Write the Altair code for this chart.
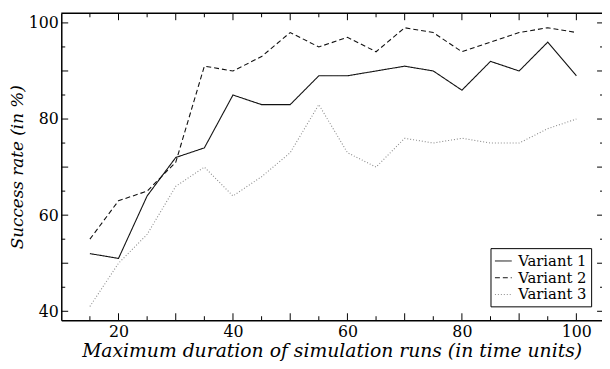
import altair as alt
import pandas as pd

# ---- data ----
durations = [15, 20, 25, 30, 35, 40, 45, 50, 55, 60, 65, 70, 75, 80, 85, 90, 95, 100]
variant1 = [52, 51, 64, 72, 74, 85, 83, 83, 89, 89, 90, 91, 90, 86, 92, 90, 96, 89]
variant2 = [55, 63, 65, 71, 91, 90, 93, 98, 95, 97, 94, 99, 98, 94, 96, 98, 99, 98]
variant3 = [41, 50, 56, 66, 70, 64, 68, 73, 83, 73, 70, 76, 75, 76, 75, 75, 78, 80]
series_names = ["Variant 1", "Variant 2", "Variant 3"]

x_labels = [20, 40, 60, 80, 100]
y_labels = [40, 60, 80, 100]
x_major = [20, 30, 40, 50, 60, 70, 80, 90, 100]
x_minor = [15, 25, 35, 45, 55, 65, 75, 85, 95]
y_major = [40, 50, 60, 70, 80, 90, 100]
y_minor = [45, 55, 65, 75, 85, 95]

# ---- layout / style ----
W, H = 548, 311
FONT = "DejaVu Serif"
x_scale = alt.Scale(domain=[10, 104.48], nice=False, zero=False)
y_scale = alt.Scale(domain=[38.15, 102], nice=False, zero=False)

x_axis = alt.Axis(values=x_labels, labelPadding=4, titleFontSize=19,
                  title="Maximum duration of simulation runs (in time units)", titlePadding=2)
y_axis = alt.Axis(values=y_labels, labelPadding=3, titleFontSize=17,
                  title="Success rate (in %)", titlePadding=2)

rows = []
for name, vals in zip(series_names, [variant1, variant2, variant3]):
    for d, v in zip(durations, vals):
        rows.append({"duration": d, "rate": v, "series": name})
df = pd.DataFrame(rows)

legend = alt.Legend(title=None, orient="none", legendX=435, legendY=238,
                    fillColor="white", strokeColor="black", padding=4,
                    symbolType="stroke", symbolSize=289, symbolStrokeWidth=1,
                    labelOffset=6, rowPadding=0, labelLimit=200)

lines = alt.Chart(df).mark_line(strokeWidth=1.1).encode(
    x=alt.X("duration:Q", scale=x_scale, axis=x_axis),
    y=alt.Y("rate:Q", scale=y_scale, axis=y_axis),
    color=alt.Color("series:N",
                    scale=alt.Scale(domain=series_names, range=["#111111", "#111111", "#8a8a8a"]),
                    legend=legend),
    strokeDash=alt.StrokeDash("series:N",
                              scale=alt.Scale(domain=series_names, range=[[1, 0], [5, 3], [1, 2]]),
                              legend=legend),
)


def xticks(vals, length, side):
    d = pd.DataFrame({"duration": vals})
    y0 = H if side == "bottom" else 0
    y1 = H - length if side == "bottom" else length
    return alt.Chart(d).mark_rule(color="black", strokeWidth=1).encode(
        x=alt.X("duration:Q", scale=x_scale, axis=x_axis),
        y=alt.value(y0), y2=alt.value(y1))


def yticks(vals, length, side):
    d = pd.DataFrame({"rate": vals})
    x0 = 0 if side == "left" else W
    x1 = length if side == "left" else W - length
    return alt.Chart(d).mark_rule(color="black", strokeWidth=1).encode(
        y=alt.Y("rate:Q", scale=y_scale, axis=y_axis),
        x=alt.value(x0), x2=alt.value(x1))


top_line = alt.Chart(pd.DataFrame({"k": [0]})).mark_rule(color="black", strokeWidth=1.5).encode(
    x=alt.value(0), x2=alt.value(W), y=alt.value(0))

chart = alt.layer(
    lines,
    xticks(x_major, 7, "bottom"), xticks(x_minor, 4, "bottom"),
    xticks(x_major, 7, "top"), xticks(x_minor, 4, "top"),
    yticks(y_major, 7, "left"), yticks(y_minor, 4, "left"),
    yticks(y_major, 5, "right"), yticks(y_minor, 2, "right"),
    top_line,
).properties(
    width=W, height=H,
    autosize=alt.AutoSizeParams(type="none"),
    padding={"left": 54, "top": 3, "right": 0, "bottom": 39},
).configure(
    font=FONT
).configure_view(
    stroke=None
).configure_axis(
    ticks=False, grid=False, domain=True, domainColor="black", domainWidth=1.5,
    labelFont=FONT, labelFontSize=16, labelColor="black",
    titleFont=FONT, titleFontStyle="italic",
    titleFontWeight="normal", titleColor="black",
).configure_legend(
    labelFont=FONT, labelFontSize=15, labelColor="black",
)

chart.save("out.html", embed_options={"renderer": "svg", "actions": False})
